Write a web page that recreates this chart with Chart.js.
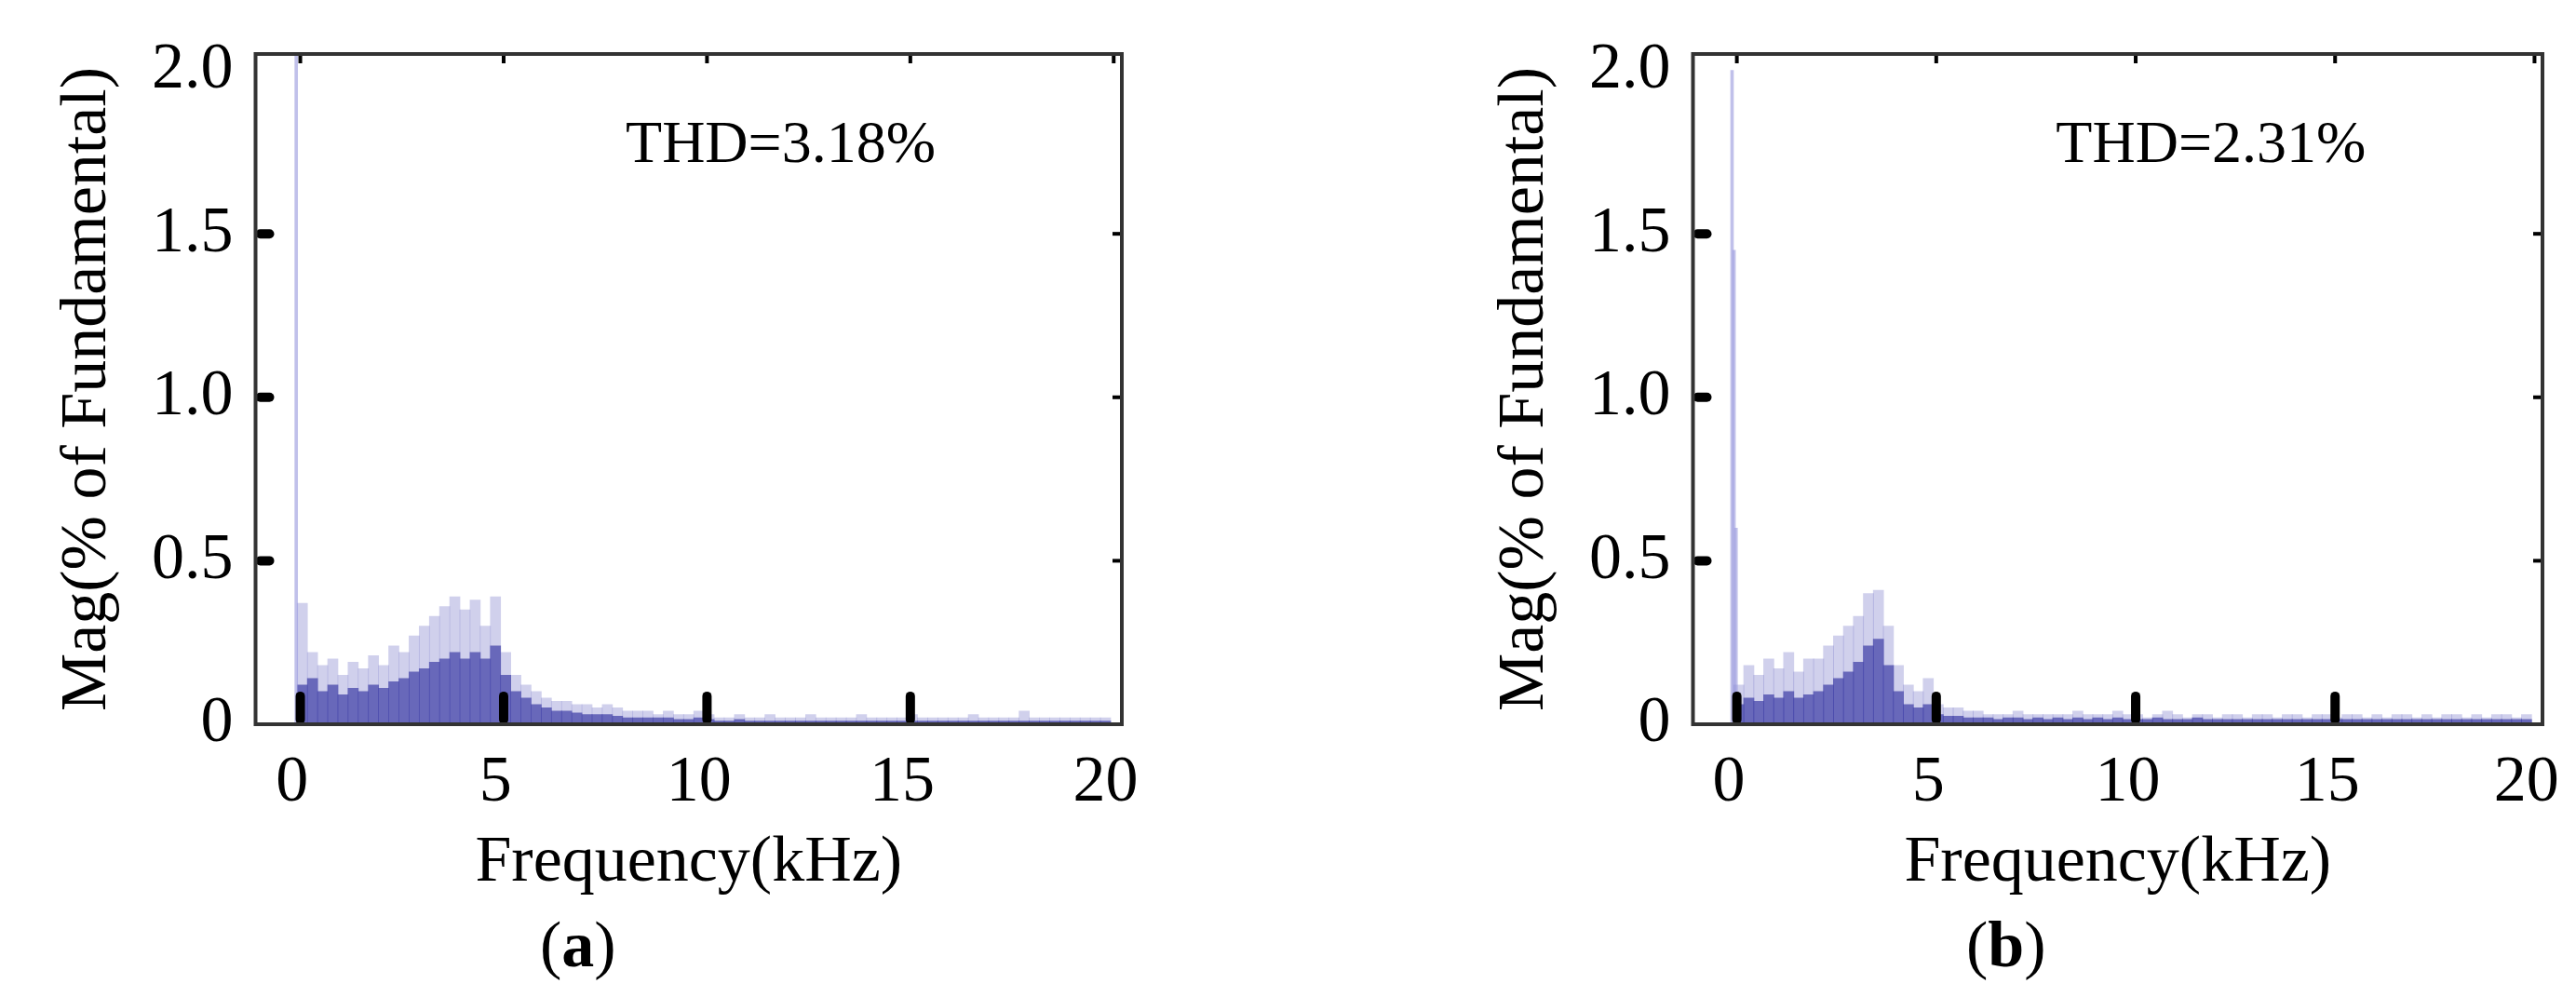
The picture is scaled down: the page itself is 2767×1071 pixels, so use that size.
<!DOCTYPE html>
<html><head><meta charset="utf-8">
<script src="https://cdn.jsdelivr.net/npm/chart.js@4/dist/chart.umd.min.js"></script>
<style>
body{margin:0;background:#fff;width:2767px;height:1071px;overflow:hidden;position:relative;font-family:"Liberation Serif",serif}
.box{position:absolute;top:0;height:970px}
.cap{position:absolute;top:975px;font-size:70px;font-family:"Liberation Serif"}
</style></head><body>
<div class="box" style="left:0;width:1240px"><canvas id="ca"></canvas></div>
<div class="box" style="left:1544px;width:1223px"><canvas id="cb"></canvas></div>
<div class="cap" style="left:580px">(<b>a</b>)</div>
<div class="cap" style="left:2112px">(<b>b</b>)</div>
<script>
const freqs=[];for(let i=1;i<=80;i++)freqs.push(i*0.25);
const peaksA=[0.37,0.22,0.18,0.20,0.15,0.19,0.17,0.21,
0.18,0.24,0.22,0.27,0.30,0.33,0.36,0.39,
0.35,0.38,0.30,0.39,0.22,0.15,0.12,0.10,
0.08,0.07,0.07,0.06,0.06,0.05,0.06,0.05,
0.04,0.04,0.04,0.03,0.04,0.03,0.03,0.04,
0.03,0.02,0.02,0.03,0.02,0.02,0.03,0.02,
0.02,0.02,0.03,0.02,0.02,0.02,0.02,0.03,
0.02,0.02,0.02,0.02,0.03,0.02,0.02,0.02,
0.02,0.02,0.03,0.02,0.02,0.02,0.02,0.04,
0.02,0.02,0.02,0.02,0.02,0.02,0.02,0.02];
const bodyA=[0.12,0.14,0.10,0.12,0.09,0.11,0.10,0.12,
0.11,0.13,0.14,0.16,0.17,0.19,0.20,0.22,
0.20,0.22,0.20,0.24,0.15,0.10,0.08,0.06,
0.05,0.04,0.04,0.035,0.03,0.03,0.03,0.025,
0.02,0.02,0.02,0.02,0.02,0.015,0.015,0.02,
0.015,0.01,0.01,0.015,0.01,0.01,0.01,0.01,
0.01,0.01,0.01,0.01,0.01,0.01,0.01,0.01,
0.01,0.01,0.01,0.01,0.01,0.01,0.01,0.01,
0.01,0.01,0.01,0.01,0.01,0.01,0.01,0.01,
0.01,0.01,0.01,0.01,0.01,0.01,0.01,0.01];
const peaksB=[0.12,0.18,0.15,0.20,0.17,0.22,0.16,0.20,
0.20,0.24,0.27,0.30,0.33,0.40,0.41,0.30,
0.18,0.12,0.10,0.14,0.06,0.05,0.05,0.04,
0.04,0.03,0.03,0.03,0.04,0.03,0.03,0.03,
0.03,0.03,0.04,0.03,0.03,0.03,0.04,0.03,
0.03,0.02,0.03,0.04,0.03,0.02,0.03,0.03,
0.02,0.03,0.03,0.02,0.03,0.03,0.02,0.03,
0.03,0.02,0.03,0.03,0.02,0.03,0.03,0.02,
0.03,0.02,0.03,0.03,0.02,0.03,0.02,0.03,
0.03,0.02,0.03,0.02,0.03,0.03,0.02,0.03];
const bodyB=[0.06,0.08,0.07,0.09,0.08,0.10,0.08,0.09,
0.10,0.12,0.14,0.16,0.19,0.24,0.26,0.18,
0.10,0.06,0.05,0.06,0.03,0.025,0.025,0.02,
0.02,0.02,0.015,0.02,0.02,0.015,0.02,0.015,
0.02,0.015,0.02,0.015,0.02,0.015,0.02,0.015,
0.015,0.015,0.02,0.015,0.015,0.015,0.02,0.015,
0.015,0.015,0.015,0.015,0.015,0.015,0.015,0.015,
0.015,0.015,0.015,0.015,0.015,0.015,0.015,0.015,
0.015,0.015,0.015,0.015,0.015,0.015,0.015,0.015,
0.015,0.015,0.015,0.015,0.015,0.015,0.015,0.015];
const spikeXA=[0.1], spikeYA=[2.05];
const spikeXB=[0.08,0.13,0.18], spikeYB=[2.0,1.45,0.6];
const xTicks=[0,5,10,15,20], yTicks=[0,0.5,1.0,1.5,2.0];
const thdA='THD=3.18%', thdB='THD=2.31%';

const pts=(xs,ys)=>xs.map((x,i)=>({x,y:ys[i]}));
const deco={id:'deco',afterDraw(c,a,o){const g=c.ctx,x=c.scales.x,y=c.scales.y,ca=c.chartArea;
 g.save();g.fillStyle='#000';
 [0,5,10,15].forEach(v=>{const p=x.getPixelForValue(v+0.2);g.beginPath();g.roundRect(p-5,y.getPixelForValue(0.1),10,y.getPixelForValue(0)-y.getPixelForValue(0.1),5);g.fill();});
 [0.5,1,1.5].forEach(v=>{const p=y.getPixelForValue(v);g.beginPath();g.roundRect(ca.left,p-5,20,10,5);g.fill();
   g.fillRect(ca.right-10,p-2,10,4);});
 [0,5,10,15,20].forEach(v=>{const p=x.getPixelForValue(v+0.2);g.fillRect(p-2,ca.top,4,10);});
 g.strokeStyle='#333';g.lineWidth=4;g.strokeRect(ca.left,ca.top,ca.right-ca.left,ca.bottom-ca.top);
 g.font='64px "Liberation Serif"';g.fillStyle='#000';g.fillText(o.text,x.getPixelForValue(o.tx),y.getPixelForValue(1.72));
 g.restore();}};
function make(id,sx,sy,pk,bd,thd,tx,pad){
 new Chart(document.getElementById(id),{type:'bar',
  data:{datasets:[
   {data:pts(sx,sy),backgroundColor:'rgba(150,150,220,0.6)',barThickness:3,grouped:false},
   {data:pts(freqs,bd),backgroundColor:'rgba(70,70,170,0.75)',barThickness:11,grouped:false},
   {data:pts(freqs,pk),backgroundColor:'rgba(120,120,200,0.35)',barThickness:11,grouped:false}]},
  options:{responsive:false,animation:false,devicePixelRatio:1,
   layout:{padding:{top:32,right:pad,left:49}},
   plugins:{legend:{display:false},tooltip:{enabled:false},deco:{text:thd,tx}},
   scales:{
    x:{type:'linear',offset:false,min:-0.9,max:20.4,grid:{display:false,offset:false},border:{display:false},
     afterBuildTicks:s=>{s.ticks=xTicks.map(v=>({value:v}))},
     ticks:{color:'#000',font:{family:'Liberation Serif',size:70},padding:14,callback:v=>v},
     title:{display:true,text:'Frequency(kHz)',color:'#000',font:{family:'Liberation Serif',size:70},padding:{top:-12,bottom:0}}},
    y:{min:0,max:2.05,grid:{display:false},border:{display:false},
     afterBuildTicks:s=>{s.ticks=yTicks.map(v=>({value:v}))},
     ticks:{color:'#000',font:{family:'Liberation Serif',size:70},padding:16,callback:v=>v===0?'0':v.toFixed(1)},
     title:{display:true,text:'Mag(% of Fundamental)',color:'#000',font:{family:'Liberation Serif',size:70},padding:{bottom:10}}}}},
  plugins:[deco]});
}
const ca=document.getElementById('ca');ca.width=1240;ca.height=970;
const cb=document.getElementById('cb');cb.width=1223;cb.height=970;
make('ca',spikeXA,spikeYA,peaksA,bodyA,thdA,8.2,35);
make('cb',spikeXB,spikeYB,peaksB,bodyB,thdB,8.2,36);
</script></body></html>
